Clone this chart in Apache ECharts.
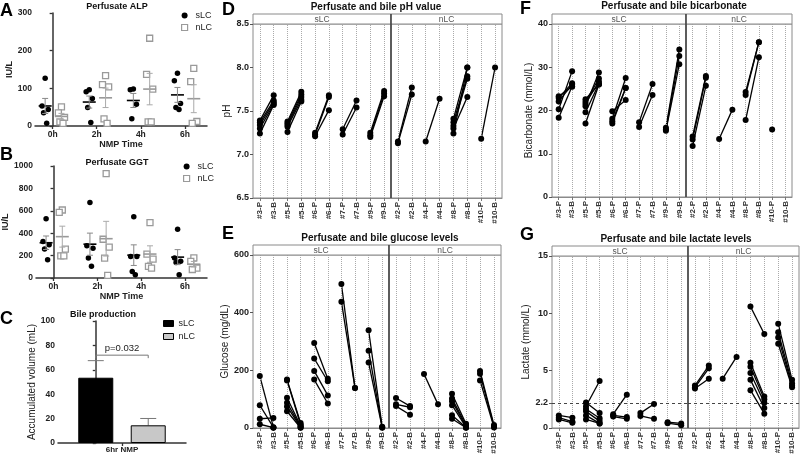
<!DOCTYPE html>
<html>
<head>
<meta charset="utf-8">
<title>Perfusate and bile analyses during NMP</title>
<script src="https://cdn.jsdelivr.net/npm/echarts@6.0.0/dist/echarts.min.js"></script>
<style>
html,body{margin:0;padding:0;background:#fff;}
#chart{width:800px;height:456px;}
</style>
</head>
<body>
<div id="chart"></div>
<script>
// ================= DATA =================
const TIMES = ['0h', '2h', '4h', '6h'];
const ALP_SLC = [[127, 53, 44, 35, 7], [96, 91, 73, 49, 9], [98, 96, 58, 19], [140, 120, 60, 49, 44]];
const ALP_NLC = [[51, 35, 23, 11, 7], [134, 110, 104, 19, 7], [233, 137, 98, 11, 11], [153, 118, 12, 7]];
const GGT_SLC = [[530, 325, 296, 260, 163], [675, 287, 266, 178, 104], [547, 192, 192, 59, 30], [435, 178, 150, 139, 30]];
const GGT_NLC = [[607, 586, 257, 198, 198], [932, 346, 275, 178, 24], [494, 213, 169, 104, 89], [180, 148, 89, 76]];

const GROUPS = ['sLC', 'nLC'];
const BILE_MEAN = [53.5, 14.5];
const BILE_SEM = [14.0, 5.6];
const BILE_TIME = '6hr NMP';
const BILE_P = 'p=0.032';

const SLC_LIVERS = ['#3', '#5', '#6', '#7', '#9'];
const NLC_LIVERS = ['#2', '#4', '#8', '#10'];

const PH_SLC_P = [[7.39, 7.37, 7.34, 7.30, 7.24], [7.38, 7.36, 7.34, 7.32, 7.26], [7.25, 7.23, 7.21], [7.29, 7.23], [7.25, 7.22, 7.20]];
const PH_SLC_B = [[7.68, 7.62, 7.60, 7.58, 7.57], [7.72, 7.69, 7.66, 7.63, 7.61], [7.68, 7.66, 7.51], [7.62, 7.54], [7.73, 7.70, 7.67]];
const PH_NLC_P = [[7.15, 7.13], [7.15], [7.41, 7.37, 7.33, 7.30, 7.24], [7.18]];
const PH_NLC_B = [[7.77, 7.69], [7.64], [8.00, 7.90, 7.87, 7.66, 8.00], [8.00]];

const GLU_SLC_P = [[180, 79, 32, 13], [168, 165, 105, 88, 75, 58], [295, 241, 198, 168], [499, 438], [339, 268, 227]];
const GLU_SLC_B = [[3, 2, 35, 1], [17, 12, 8, 5, 2, 1], [171, 162, 113, 85], [139, 139], [4, 3, 1]];
const GLU_NLC_P = [[104, 82, 76], [187], [119, 102, 93, 79, 44, 32], [198, 188, 165]];
const GLU_NLC_B = [[76, 72, 46], [82], [15, 10, 5, 3, 2, 1], [10, 5, 2]];

const BIC_SLC_P = [[23.3, 22.9, 22.1, 20.3, 18.3], [22.6, 22.0, 21.5, 21.0, 19.6, 17.0], [19.8, 18.1, 17.5, 17.0], [17.3, 16.2], [16.0, 15.6, 15.3]];
const BIC_SLC_B = [[25.5, 26.3, 26.0, 29.1, 25.6], [26.0, 27.4, 26.7, 28.8, 26.2, 26.0], [22.4, 27.5, 25.2, 25.2], [26.1, 23.6], [34.1, 32.6, 30.7]];
const BIC_NLC_P = [[14.0, 13.3, 11.8], [13.4], [24.3, 23.6, 17.8], [15.6]];
const BIC_NLC_B = [[28.0, 27.6, 25.7], [20.2], [35.8, 35.8, 32.3], []];

const LAC_SLC_P = [[1.1, 0.9, 0.75], [2.23, 1.9, 1.65, 1.45, 1.1, 0.75], [1.2, 1.1, 1.0], [1.3, 1.05], [0.5, 0.42]];
const LAC_SLC_B = [[0.9, 0.55, 0.45], [1.3, 4.1, 0.85, 0.6, 0.4, 0.4], [2.9, 0.95, 0.8], [2.1, 0.8], [0.4, 0.25]];
const LAC_NLC_P = [[3.7, 3.55, 3.45], [4.3], [10.6, 5.7, 5.35, 4.8, 4.2, 3.3], [9.1, 8.35, 7.9, 7.35]];
const LAC_NLC_B = [[5.45, 5.2, 4.3], [6.2], [8.2, 2.75, 2.5, 2.2, 1.75, 1.25], [4.2, 3.9, 3.7, 3.55]];
const LACTATE_REF = 2.2;
const LACTATE_TICKS = [0, 2.2, 5, 10, 15];

// ================= LAYOUT / STYLE =================
const FONT = '"Liberation Sans", Arial, Helvetica, sans-serif';
const AX = '#333';
const FRAME = '#8a8a8a';
const STRIP = 10;
const SLC_SHIFT = -0.17, NLC_SHIFT = 0.2;       // horizontal offsets of the two groups within a time point
const JITTER = [0, -0.07, 0.07, -0.035, 0.035, 0];
const C_BRACKET_Y = 72;
const DOT_R = 3;

function fnt(size, bold) { return (bold ? 'bold ' : '') + size + 'px ' + FONT; }
function ts(size, bold, color) { return { fontFamily: FONT, fontSize: size, fontWeight: bold ? 'bold' : 'normal', color: color || '#222' }; }
const plain = v => String(v);

const grid = [], xAxis = [], yAxis = [], series = [], legend = [], graphic = [];

function gText(text, x, y, size, bold, align, color) {
  return { type: 'text', x: x, y: y, silent: true, z: 100,
    style: { text: text, font: fnt(size, bold), fill: color || '#111',
      align: align || 'center', textAlign: align || 'center', verticalAlign: 'middle', textVerticalAlign: 'middle' } };
}

function meanSem(a) {
  const m = a.reduce((s, v) => s + v, 0) / a.length;
  const sd = Math.sqrt(a.reduce((s, v) => s + (v - m) * (v - m), 0) / (a.length - 1));
  return [m, sd / Math.sqrt(a.length)];
}

function errRender(meanColor, barColor, half, cap, upOnly) {
  return function (params, api) {
    const x = api.value(0), m = api.value(1), s = api.value(2);
    const c = api.coord([x, m]), t = api.coord([x, m + s]), b = api.coord([x, upOnly ? m : m - s]);
    const ch = [];
    if (half > 0) ch.push({ type: 'line', shape: { x1: c[0] - half, y1: c[1], x2: c[0] + half, y2: c[1] }, style: { stroke: meanColor, lineWidth: 1.6 } });
    ch.push({ type: 'line', shape: { x1: c[0], y1: t[1], x2: c[0], y2: b[1] }, style: { stroke: barColor, lineWidth: 1 } });
    ch.push({ type: 'line', shape: { x1: c[0] - cap, y1: t[1], x2: c[0] + cap, y2: t[1] }, style: { stroke: barColor, lineWidth: 1 } });
    if (!upOnly) ch.push({ type: 'line', shape: { x1: c[0] - cap, y1: b[1], x2: c[0] + cap, y2: b[1] }, style: { stroke: barColor, lineWidth: 1 } });
    return { type: 'group', children: ch };
  };
}

function dotRender(params, api) {
  const c = api.coord([api.value(0), api.value(1)]);
  return { type: 'circle', shape: { cx: c[0], cy: c[1], r: DOT_R }, style: { fill: '#000', stroke: null } };
}

// ---------- Panels A & B : scatter with mean ± SEM ----------
function dotPanel(rect, yMax, yInt, sData, nData, nameGap, legendPos) {
  const gi = grid.length;
  grid.push(Object.assign({ show: false, containLabel: false, outerBoundsMode: 'none' }, rect));
  const idx = TIMES.map((_, i) => i);
  xAxis.push({ gridIndex: gi, type: 'value', min: -0.4, max: TIMES.length - 0.5,
    axisLine: { show: true, onZero: false, lineStyle: { color: AX, width: 1.5 } },
    axisTick: { show: true, customValues: idx, length: 3, lineStyle: { color: AX, width: 1.3 } },
    axisLabel: Object.assign({ customValues: idx, formatter: v => TIMES[Math.round(v)], margin: 4 }, ts(8.5, true)),
    splitLine: { show: false },
    name: 'NMP Time', nameLocation: 'middle', nameGap: 14, nameTextStyle: ts(9, true) });
  yAxis.push({ gridIndex: gi, type: 'value', min: 0, max: yMax, interval: yInt,
    axisLine: { show: true, lineStyle: { color: AX, width: 1.5 } },
    axisTick: { show: true, length: 3, lineStyle: { color: AX, width: 1.3 } },
    axisLabel: Object.assign({ margin: 3, formatter: plain }, ts(8.5, true)),
    splitLine: { show: false },
    name: 'IU/L', nameLocation: 'middle', nameGap: nameGap, nameTextStyle: ts(9, true) });
  const sPts = [], nPts = [], sErr = [], nErr = [];
  sData.forEach((vals, g) => { vals.forEach((v, j) => sPts.push([g + SLC_SHIFT + JITTER[j], v])); const ms = meanSem(vals); sErr.push([g + SLC_SHIFT, ms[0], ms[1]]); });
  nData.forEach((vals, g) => { vals.forEach((v, j) => nPts.push([g + NLC_SHIFT + JITTER[j], v])); const ms = meanSem(vals); nErr.push([g + NLC_SHIFT, ms[0], ms[1]]); });
  series.push({ type: 'scatter', name: GROUPS[0], xAxisIndex: gi, yAxisIndex: gi, data: sPts, symbol: 'circle', symbolSize: 5.5,
    itemStyle: { color: '#000', opacity: 1 }, silent: true, z: 3 });
  series.push({ type: 'scatter', name: GROUPS[1], xAxisIndex: gi, yAxisIndex: gi, data: nPts, symbol: 'rect', symbolSize: 6,
    itemStyle: { color: '#fff', borderColor: '#9a9a9a', borderWidth: 1.3, opacity: 1 }, silent: true, z: 3 });
  series.push({ type: 'custom', xAxisIndex: gi, yAxisIndex: gi, data: sErr, renderItem: errRender('#000', '#888', 6.5, 3, false), silent: true, clip: false, z: 4 });
  series.push({ type: 'custom', xAxisIndex: gi, yAxisIndex: gi, data: nErr, renderItem: errRender('#999', '#aaa', 6.5, 3, false), silent: true, clip: false, z: 4 });
  legend.push({ left: legendPos[0], top: legendPos[1], orient: 'vertical', itemWidth: 6, itemHeight: 6, itemGap: 3, padding: 0,
    selectedMode: false, textStyle: Object.assign(ts(9, false), { padding: [0, 0, 0, 3] }),
    data: [{ name: GROUPS[0], icon: 'circle', itemStyle: { color: '#000', borderWidth: 0, opacity: 1 } },
           { name: GROUPS[1], icon: 'rect', itemStyle: { color: '#fff', borderColor: '#9a9a9a', borderWidth: 1.2, opacity: 1 } }] });
}

dotPanel({ left: 35, top: 13, width: 172, height: 113 }, 300, 100, ALP_SLC, ALP_NLC, 21, [181, 11]);
dotPanel({ left: 36, top: 166, width: 171, height: 112 }, 1000, 200, GGT_SLC, GGT_NLC, 23, [183, 162]);

// ---------- Panel C : bile production ----------
(function () {
  const gi = grid.length;
  grid.push({ left: 58, top: 321, width: 128, height: 122, show: false, containLabel: false, outerBoundsMode: 'none' });
  const mid = (GROUPS.length - 1) / 2;
  xAxis.push({ gridIndex: gi, type: 'value', min: -0.72, max: 1.72,
    axisLine: { show: true, onZero: false, lineStyle: { color: AX, width: 1.5 } },
    axisTick: { show: true, customValues: [mid], length: 3, lineStyle: { color: AX, width: 1.3 } },
    axisLabel: { show: false }, splitLine: { show: false },
    name: BILE_TIME, nameLocation: 'middle', nameGap: 3, nameTextStyle: ts(8, true) });
  yAxis.push({ gridIndex: gi, type: 'value', min: 0, max: 100, interval: 20,
    axisLine: { show: true, lineStyle: { color: AX, width: 1.5 } },
    axisTick: { show: true, length: 3, lineStyle: { color: AX, width: 1.3 } },
    axisLabel: Object.assign({ margin: 3, formatter: plain }, ts(8.5, true)),
    splitLine: { show: false },
    name: 'Accumulated volume (mL)', nameLocation: 'middle', nameGap: 20, nameTextStyle: ts(10, false) });
  const fills = ['#000', '#c8c8c8'];
  GROUPS.forEach((g, i) => {
    series.push({ type: 'bar', name: g, xAxisIndex: gi, yAxisIndex: gi, data: [[i, BILE_MEAN[i]]], barWidth: 35, barGap: '-100%',
      itemStyle: { color: fills[i], borderColor: '#000', borderWidth: 1, opacity: 1 }, silent: true });
  });
  series.push({ type: 'custom', xAxisIndex: gi, yAxisIndex: gi, data: GROUPS.map((g, i) => [i, BILE_MEAN[i], BILE_SEM[i]]),
    renderItem: errRender('#000', '#777', 0, 8, true), silent: true, clip: false, z: 1 });
  series.push({ type: 'custom', xAxisIndex: gi, yAxisIndex: gi, data: [[0, C_BRACKET_Y]], silent: true, clip: false,
    renderItem: function (params, api) {
      const a = api.coord([0, api.value(1)]), b = api.coord([GROUPS.length - 1, api.value(1)]);
      return { type: 'group', children: [
        { type: 'polyline', shape: { points: [[a[0], a[1] + 3], [a[0], a[1]], [b[0], b[1]], [b[0], b[1] + 3]] }, style: { stroke: '#777', lineWidth: 1, fill: null } },
        { type: 'text', x: (a[0] + b[0]) / 2, y: a[1] - 2, style: { text: BILE_P, font: fnt(9.5, false), fill: '#222', align: 'center', textAlign: 'center', verticalAlign: 'bottom', textVerticalAlign: 'bottom' } }
      ] };
    } });
  legend.push({ left: 163, top: 319, orient: 'vertical', itemWidth: 10, itemHeight: 6, itemGap: 4, padding: 0, selectedMode: false,
    textStyle: Object.assign(ts(9, false), { padding: [0, 0, 0, 0] }),
    data: [{ name: GROUPS[0], icon: 'rect', itemStyle: { color: '#000', borderColor: '#000', borderWidth: 1, opacity: 1 } },
           { name: GROUPS[1], icon: 'rect', itemStyle: { color: '#c8c8c8', borderColor: '#000', borderWidth: 1, opacity: 1 } }] });
})();

// ---------- Panels D–G : faceted paired plots ----------
function cats(ids) { const out = []; ids.forEach(id => { out.push(id + '-P'); out.push(id + '-B'); }); return out; }

function facet(p) {
  const parts = [[GROUPS[0], p.sRect, SLC_LIVERS, p.sP, p.sB], [GROUPS[1], p.nRect, NLC_LIVERS, p.nP, p.nB]];
  parts.forEach((part, k) => {
    const lab = part[0], r = part[1], ids = part[2], P = part[3], B = part[4];
    const gi = grid.length;
    grid.push({ left: r[0], top: r[1], width: r[2], height: r[3], show: true, borderColor: FRAME, borderWidth: 1,
      backgroundColor: 'rgba(0,0,0,0)', containLabel: false, outerBoundsMode: 'none' });
    const C = cats(ids);
    xAxis.push({ gridIndex: gi, type: 'category', data: C, boundaryGap: true,
      axisLine: { show: true, lineStyle: { color: FRAME, width: 1 } },
      axisTick: { show: true, alignWithLabel: true, length: 3, lineStyle: { color: '#777' } },
      axisLabel: { interval: 0, rotate: 90, margin: 4, fontFamily: FONT, fontSize: 8, fontWeight: 'bold', color: '#333' },
      splitLine: { show: false } });
    const ya = { gridIndex: gi, type: 'value', min: p.min, max: p.max, splitLine: { show: false }, axisLine: { show: false } };
    if (k === 0) {
      ya.interval = p.interval;
      ya.axisTick = { show: true, length: 3, lineStyle: { color: '#555' } };
      ya.axisLabel = { margin: 4, fontFamily: FONT, fontSize: 9, fontWeight: 'bold', color: '#222', formatter: p.fmt || plain };
      if (p.ticks) { ya.axisLabel.customValues = p.ticks; ya.axisTick.customValues = p.ticks; }
      ya.name = p.name; ya.nameLocation = 'middle'; ya.nameGap = p.nameGap;
      ya.nameTextStyle = { fontFamily: FONT, fontSize: 10, color: '#222' };
    } else {
      ya.axisTick = { show: false }; ya.axisLabel = { show: false };
    }
    yAxis.push(ya);
    series.push({ type: 'line', xAxisIndex: gi, yAxisIndex: gi, data: [], silent: true, z: 1,
      markLine: { silent: true, symbol: ['none', 'none'], label: { show: false }, animation: false,
        lineStyle: { type: 'dotted', color: '#aaa', width: 1 }, emphasis: { disabled: true },
        data: C.map(c => ({ xAxis: c })) } });
    if (p.ref != null) {
      series.push({ type: 'line', xAxisIndex: gi, yAxisIndex: gi, data: [], silent: true, z: 1,
        markLine: { silent: true, symbol: ['none', 'none'], label: { show: false }, animation: false,
          lineStyle: { type: [3, 3], color: '#444', width: 1 }, emphasis: { disabled: true },
          data: [{ yAxis: p.ref }] } });
    }
    const pts = [];
    ids.forEach((id, i) => {
      P[i].forEach((v, j) => {
        const d = [[id + '-P', v]];
        pts.push([C.indexOf(id + '-P'), v]);
        if (B[i] && B[i][j] != null) { d.push([id + '-B', B[i][j]]); pts.push([C.indexOf(id + '-B'), B[i][j]]); }
        if (d.length > 1) series.push({ type: 'line', xAxisIndex: gi, yAxisIndex: gi, data: d, showSymbol: false, symbol: 'none',
          lineStyle: { color: '#000', width: 1.3, opacity: 1 }, silent: true, z: 3 });
      });
    });
    series.push({ type: 'custom', xAxisIndex: gi, yAxisIndex: gi, data: pts, renderItem: dotRender,
      encode: { x: 0, y: 1 }, silent: true, clip: false, z: 5 });
    graphic.push({ type: 'rect', silent: true, z: 50, shape: { x: r[0], y: r[1] - STRIP, width: r[2], height: STRIP },
      style: { fill: '#fff', stroke: FRAME, lineWidth: 1 } });
    graphic.push(gText(lab, r[0] + r[2] / 2, r[1] - STRIP / 2 + 0.5, 8.5, false, 'center', '#555'));
  });
  const sx = p.sRect[0] + p.sRect[2];
  graphic.push({ type: 'line', silent: true, z: 60, shape: { x1: sx, y1: p.sRect[1] - STRIP, x2: sx, y2: p.sRect[1] + p.sRect[3] },
    style: { stroke: '#333', lineWidth: 1.3 } });
}

facet({ sRect: [253, 24, 138, 174], nRect: [391, 24, 111, 174], min: 6.5, max: 8.5, interval: 0.5, fmt: v => v.toFixed(1),
  name: 'pH', nameGap: 21, sP: PH_SLC_P, sB: PH_SLC_B, nP: PH_NLC_P, nB: PH_NLC_B });
facet({ sRect: [253, 255, 136, 173], nRect: [389, 255, 112, 173], min: 0, max: 600, interval: 200,
  name: 'Glucose (mg/dL)', nameGap: 22, sP: GLU_SLC_P, sB: GLU_SLC_B, nP: GLU_NLC_P, nB: GLU_NLC_B });
facet({ sRect: [552, 24, 134, 173], nRect: [686, 24, 106, 173], min: 0, max: 40, interval: 10,
  name: 'Bicarbonate (mmol/L)', nameGap: 17, sP: BIC_SLC_P, sB: BIC_SLC_B, nP: BIC_NLC_P, nB: BIC_NLC_B });
facet({ sRect: [552, 256, 136, 172], nRect: [688, 256, 111, 172], min: 0, max: 15, interval: 5, ticks: LACTATE_TICKS,
  ref: LACTATE_REF, name: 'Lactate (mmol/L)', nameGap: 19, sP: LAC_SLC_P, sB: LAC_SLC_B, nP: LAC_NLC_P, nB: LAC_NLC_B });

// ---------- titles & panel letters ----------
graphic.push(gText('A', 0, 11, 18, true, 'left', '#000'));
graphic.push(gText('B', 0, 155, 18, true, 'left', '#000'));
graphic.push(gText('C', 0, 319, 18, true, 'left', '#000'));
graphic.push(gText('D', 222, 10, 18, true, 'left', '#000'));
graphic.push(gText('E', 222, 234, 18, true, 'left', '#000'));
graphic.push(gText('F', 520, 9, 18, true, 'left', '#000'));
graphic.push(gText('G', 520, 235, 18, true, 'left', '#000'));

graphic.push(gText('Perfusate ALP', 117, 7, 9, true));
graphic.push(gText('Perfusate GGT', 117, 163, 9, true));
graphic.push(gText('Bile production', 103, 315, 9, true));
graphic.push(gText('Perfusate and bile pH value', 376, 7, 10, true));
graphic.push(gText('Perfusate and bile glucose levels', 380, 238, 10, true));
graphic.push(gText('Perfusate and bile bicarbonate', 674, 6, 10, true));
graphic.push(gText('Perfusate and bile lactate levels', 676, 239, 10, true));

const chart = echarts.init(document.getElementById('chart'), null, { renderer: 'canvas', width: 800, height: 456 });
chart.setOption({
  animation: false,
  backgroundColor: '#fff',
  textStyle: { fontFamily: FONT },
  grid: grid, xAxis: xAxis, yAxis: yAxis, series: series, legend: legend, graphic: graphic,
  tooltip: { show: false }
});
</script>
</body>
</html>
